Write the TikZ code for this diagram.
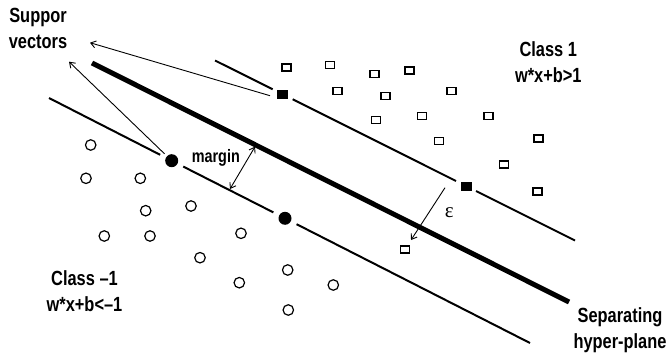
\documentclass[tikz,border=0pt]{standalone}
\usepackage{fontspec}
\setmainfont{Liberation Sans}[FakeStretch=0.8]
\newfontfamily\greekserif{Liberation Serif}
\usetikzlibrary{arrows.meta,calc}

\begin{document}
\begin{tikzpicture}[x=1pt,y=-1pt,
  hyper/.style={line width=5pt},
  marginline/.style={line width=2pt},
  pointer/.style={line width=0.9pt,-{Straight Barb[length=5pt,width=7pt]}},
  twoway/.style={line width=0.9pt,{Straight Barb[length=5pt,width=7pt]}-{Straight Barb[length=5pt,width=7pt]}},
  sqpt/.style={draw,line width=1.5pt,fill=white,minimum width=9pt,minimum height=7pt,inner sep=0pt},
  sqsv/.style={fill=black,minimum width=11pt,minimum height=9pt,inner sep=0pt,outer sep=4.5pt},
  cpt/.style={circle,draw,line width=1.2pt,minimum size=10.5pt,inner sep=0pt},
  csv/.style={circle,fill=black,minimum size=13pt,inner sep=0pt,outer sep=6.5pt},
  tag/.style={align=center,anchor=base,inner sep=0pt,font=\bfseries\fontsize{20.5}{26}\selectfont},
]
\useasboundingbox (0,0) rectangle (670,353);

% support vectors
\node[sqsv] (sv1) at (282.7,94.3) {};
\node[sqsv] (sv2) at (466,186) {};
\node[csv] (c1) at (171.7,160.7) {};
\node[csv] (c2) at (285,218.3) {};

% line ends
\coordinate (upA) at (215,60.5);
\coordinate (upB) at (575,240.5);
\coordinate (loA) at (49,98);
\coordinate (loB) at (530,343);
\coordinate (hpA) at (92,63);
\coordinate (hpB) at (569,302);

% separating hyper-plane and the two margin lines
\draw[hyper] (hpA) -- (hpB);
\draw[marginline] (upA) -- (sv1);
\draw[marginline] (sv1) -- (sv2);
\draw[marginline] (sv2) -- (upB);
\draw[marginline] (loA) -- (c1);
\draw[marginline] (c1) -- (c2);
\draw[marginline] (c2) -- (loB);

% class 1 points
\foreach \p [count=\i] in {(286.3,67.3),(330,65),(374.3,74),(409.3,70.7),(337.7,91),
  (385.3,96),(451.7,91),(376,120),(422,116),(488.7,116),(439,141),(538.7,138.7),
  (504,164.3),(537.3,191.3)}
  \node[sqpt] (p\i) at \p {};
\node[sqpt] (mis) at (405,249.3) {};

% class -1 points
\foreach \p [count=\i] in {(90.7,145),(86,178.3),(140.3,178.3),(145.7,210.7),(191,206),
  (104.3,236),(150,236),(241,233.3),(200,257.7),(287.7,270),(239.3,282.7),
  (288.3,310),(333.3,285)}
  \node[cpt] (n\i) at \p {};

% labels (base anchor sits on the last line)
\node[tag] (sup) at (38,48.3) {Suppor\\vectors};
\node[tag] (cls1) at (548.3,82.7) {Class 1\\w*x+b>1};
\node[tag] (cls2) at (84.5,311.7) {Class –1\\w*x+b<–1};
\node[tag] (sep) at (620,348.3) {Separating\\hyper-plane};
\node[anchor=base,inner sep=0pt,font=\bfseries\fontsize{18}{20}\selectfont] (mg) at (215.8,162.3) {margin};
\node[inner sep=0pt,font=\greekserif\fontsize{21}{21}\selectfont] (eps) at (449.3,212.3) {ε};

% pointers to the support vectors
\coordinate (tip1) at (90,42.7);
\coordinate (tip2) at (69,61.7);
\draw[pointer] ($(sv1)+(-12.7,1.4)$) -- (tip1);
\draw[pointer,shorten <=-3pt] (c1) -- (tip2);

% margin width
\coordinate (m1) at (230,189);
\coordinate (m2) at (255,146.7);
\draw[twoway] (m1) -- (m2);

% slack of the misclassified point
\coordinate (e1) at (445,187.7);
\draw[pointer,shorten >=6pt] (e1) -- (mis);
\end{tikzpicture}
\end{document}
